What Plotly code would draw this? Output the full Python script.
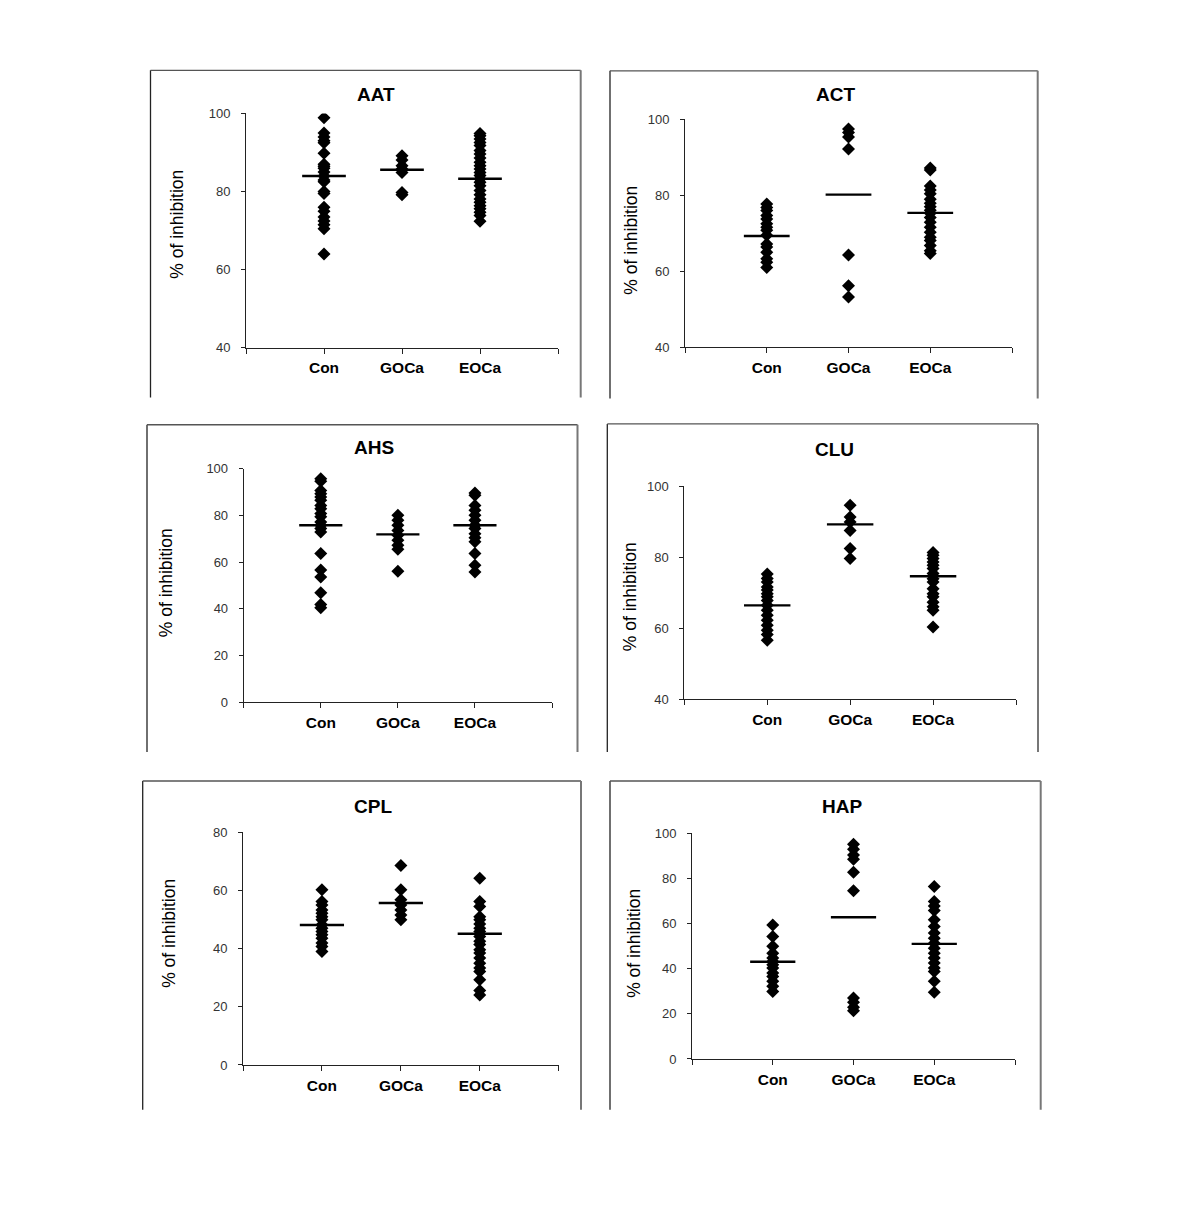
import plotly.graph_objects as go

W, H = 1200, 1216
groups = ["Con", "GOCa", "EOCa"]

# ---- data ----
titles = ["AAT", "ACT", "AHS", "CLU", "CPL", "HAP"]

aat_con = [98.9, 95, 94, 93, 92.5, 89.8, 87, 86.5, 86, 85, 84, 83, 82.5, 80, 79.5, 76, 75, 73.5, 72.5, 71.5, 70.5, 64]
aat_goca = [89.2, 88.1, 86.6, 85.8, 84.9, 79.8, 79.2]
aat_eoca = [94.9, 94.3, 93.5, 92.6, 91.8, 90.5, 89.6, 88.6, 87.5, 86.6, 85.8, 84.9, 84.1, 83.2, 82.4, 81.5, 80.3, 79.2, 78.1, 77.3, 76.4, 75.6, 74.7, 73.9, 72.4]
aat_mean = [84.0, 85.6, 83.3]

act_con = [77.7, 76.8, 76.0, 74.7, 73.8, 72.5, 71.6, 70.8, 69.5, 67.2, 66.4, 65.0, 63.3, 62.4, 61.0]
act_goca = [97.5, 96.6, 95.4, 92.2, 64.3, 56.2, 53.2]
act_eoca = [87.2, 86.7, 82.5, 81.4, 80.4, 79.0, 77.9, 77.0, 76.1, 75.3, 74.2, 72.9, 71.6, 70.3, 69.0, 68.1, 66.8, 65.4, 64.7]
act_mean = [69.3, 80.2, 75.4]

ahs_con = [95.7, 94.6, 90.7, 89.3, 87.9, 86.5, 84.3, 82.9, 80.8, 79.4, 77.2, 75.8, 74.4, 72.9, 63.7, 56.6, 53.7, 46.9, 41.9, 40.5]
ahs_goca = [80.1, 77.9, 75.8, 73.6, 71.5, 69.4, 67.2, 65.5, 56.1]
ahs_eoca = [89.6, 88.6, 84.3, 82.2, 80.1, 77.9, 75.8, 74.4, 72.2, 70.4, 68.7, 63.7, 58.7, 55.8]
ahs_mean = [75.8, 71.9, 75.8]

clu_con = [75.2, 74.0, 73.0, 71.6, 70.7, 69.7, 68.8, 67.8, 66.4, 65.0, 63.6, 62.2, 60.8, 59.4, 58.2, 56.6]
clu_goca = [94.6, 91.3, 89.9, 87.5, 82.4, 79.6]
clu_eoca = [81.3, 80.5, 79.6, 78.6, 77.7, 76.8, 75.4, 73.9, 73.0, 71.1, 69.7, 68.8, 67.3, 66.0, 65.0, 60.3]
clu_mean = [66.4, 89.2, 74.6]

cpl_con = [60.2, 56.2, 55.0, 53.3, 52.2, 51.0, 49.9, 48.2, 47.0, 45.9, 44.8, 43.6, 41.9, 40.7, 39.0]
cpl_goca = [68.6, 60.2, 56.8, 55.0, 53.3, 51.6, 49.9]
cpl_eoca = [64.2, 56.2, 54.5, 51.0, 49.9, 48.5, 47.0, 45.9, 44.2, 42.5, 41.4, 39.6, 38.5, 36.8, 35.0, 33.3, 32.1, 29.3, 25.6, 24.1]
cpl_mean = [48.1, 55.7, 45.1]

hap_con = [59.4, 54.3, 49.9, 46.9, 44.7, 43.2, 41.7, 40.3, 38.1, 36.6, 34.4, 32.2, 29.9]
hap_goca = [95.1, 92.9, 90.4, 88.5, 82.7, 74.5, 27.0, 25.1, 22.9, 21.4]
hap_eoca = [76.4, 69.8, 67.8, 65.8, 61.7, 58.7, 55.8, 53.5, 51.3, 49.1, 46.9, 44.7, 42.5, 40.3, 38.8, 34.4, 29.6]
hap_mean = [43.1, 62.8, 51.0]

panels_data = [
    (aat_con, aat_goca, aat_eoca, aat_mean, [40, 100], [40, 60, 80, 100]),
    (act_con, act_goca, act_eoca, act_mean, [40, 100], [40, 60, 80, 100]),
    (ahs_con, ahs_goca, ahs_eoca, ahs_mean, [0, 100], [0, 20, 40, 60, 80, 100]),
    (clu_con, clu_goca, clu_eoca, clu_mean, [40, 100], [40, 60, 80, 100]),
    (cpl_con, cpl_goca, cpl_eoca, cpl_mean, [0, 80], [0, 20, 40, 60, 80]),
    (hap_con, hap_goca, hap_eoca, hap_mean, [0, 100], [0, 20, 40, 60, 80, 100]),
]

# ---- layout geometry (target pixels on the page) ----
plot_px = [
    (246, 558, 112.7, 347.3),
    (685, 1012, 118.7, 346.7),
    (243.7, 552, 468.3, 702.3),
    (684.3, 1016, 485.7, 699),
    (243, 558.7, 832.3, 1065.3),
    (692, 1015, 833.3, 1059.3),
]
frame_px = [
    (150.5, 580.7, 69.5, 397),
    (610, 1037.7, 70, 398),
    (147, 577.5, 424.3, 752),
    (607.3, 1038, 423.5, 752),
    (142.7, 581, 781, 1110),
    (610, 1040.7, 781, 1110),
]
title_px = [(376, 94), (835, 94), (374, 447), (834, 449), (373, 807), (842, 807)]
ylab_px = [(177, 224), (631, 240), (166, 582), (630, 597), (169, 934), (634, 943)]

# page offset compensation (page margin / vertical fit)
OX, OY, SY = 8.0, 14.1, 0.9888


def PX(x):
    return (x - OX) / W


def PY(y):
    return 1 - ((y - OY) / SY) / H


FONT = "Arial, Liberation Sans, sans-serif"
fig = go.Figure()
shapes = []
annotations = []
half = 0.28

for i, (con, goca, eoca, means, yr, yt) in enumerate(panels_data):
    k = "" if i == 0 else str(i + 1)
    xa, ya = "x" + k, "y" + k
    xs, ys = [], []
    for gi, vals in enumerate([con, goca, eoca]):
        xs += [gi + 1] * len(vals)
        ys += vals
    fig.add_trace(go.Scatter(
        x=xs, y=ys, mode="markers", xaxis=xa, yaxis=ya,
        marker=dict(symbol="diamond", size=10, color="black"),
        showlegend=False, hoverinfo="y"))
    lx, ly = [], []
    for gi, m in enumerate(means):
        lx += [gi + 1 - half, gi + 1 + half, None]
        ly += [m, m, None]
    fig.add_trace(go.Scatter(
        x=lx, y=ly, mode="lines", xaxis=xa, yaxis=ya,
        line=dict(color="black", width=2.4), showlegend=False, hoverinfo="skip"))

    x0, x1, y0, y1 = plot_px[i]
    fig.layout["xaxis" + k] = dict(
        domain=[PX(x0), PX(x1)], range=[0, 4], anchor=ya,
        tickvals=[0, 1, 2, 3, 4], ticktext=["", groups[0], groups[1], groups[2], ""],
        ticks="outside", ticklen=5, tickcolor="#222", showline=True, linecolor="#222",
        linewidth=1, showgrid=False, zeroline=False, ticklabelstandoff=1,
        tickfont=dict(family=FONT, size=15.5, color="black", weight="bold"))
    fig.layout["yaxis" + k] = dict(
        domain=[PY(y1), PY(y0)], range=yr, anchor=xa, tickvals=yt,
        ticks="outside", ticklen=4, tickcolor="#222", showline=True, linecolor="#222",
        linewidth=1, showgrid=False, zeroline=False, ticklabelstandoff=8,
        tickfont=dict(family=FONT, size=13, color="#333"))

    fl, fr, ft, fb = frame_px[i]
    shapes.append(dict(type="line", xref="paper", yref="paper", x0=PX(fl), x1=PX(fl),
                       y0=PY(ft), y1=PY(fb), line=dict(color="#222", width=1.3)))
    shapes.append(dict(type="line", xref="paper", yref="paper", x0=PX(fl), x1=PX(fr),
                       y0=PY(ft), y1=PY(ft), line=dict(color="#555", width=1.3)))
    shapes.append(dict(type="line", xref="paper", yref="paper", x0=PX(fr), x1=PX(fr),
                       y0=PY(ft), y1=PY(fb), line=dict(color="#777", width=2)))

    tx, ty = title_px[i]
    annotations.append(dict(text="<b>" + titles[i] + "</b>", xref="paper", yref="paper",
                            x=PX(tx), y=PY(ty), showarrow=False, xanchor="center", yanchor="middle",
                            font=dict(family=FONT, size=19, color="black")))
    lx_, ly_ = ylab_px[i]
    annotations.append(dict(text="% of inhibition", xref="paper", yref="paper",
                            x=PX(lx_), y=PY(ly_), showarrow=False, textangle=-90,
                            xanchor="center", yanchor="middle",
                            font=dict(family=FONT, size=17.5, color="black")))

fig.update_layout(
    width=W, height=H, margin=dict(l=0, r=0, t=0, b=0),
    paper_bgcolor="white", plot_bgcolor="white",
    shapes=shapes, annotations=annotations, showlegend=False)

fig.write_html("out.html")
